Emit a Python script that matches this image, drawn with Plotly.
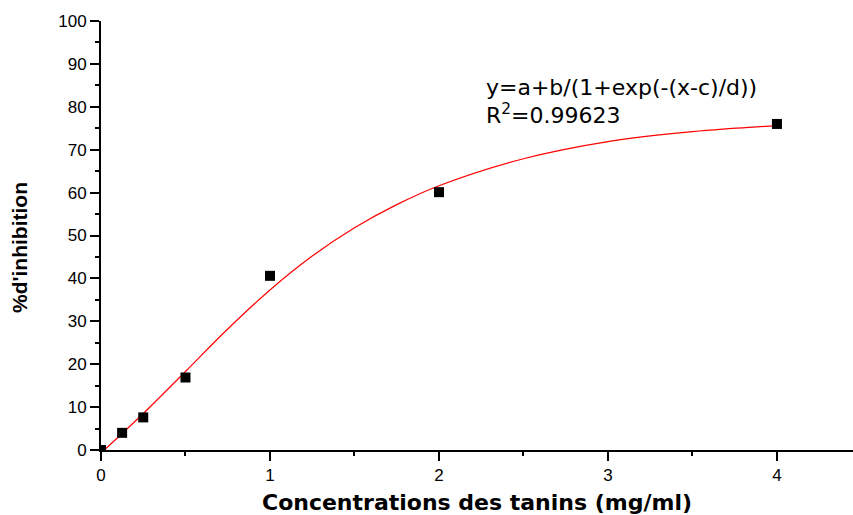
import plotly.graph_objects as go

# measured data points
conc = [0, 0.125, 0.25, 0.5, 1, 2, 4]
inhib = [0, 4.0, 7.6, 16.9, 40.6, 60.1, 76.0]

# fitted sigmoid curve
fit_x = [0.02, 0.25, 0.5, 0.75, 1.0, 1.25, 1.5, 1.75, 2.0, 2.5, 3.0, 3.5, 4.0]
fit_y = [0, 8.5, 18.3, 28.2, 37.3, 45.2, 51.8, 57.2, 61.6, 67.9, 71.9, 74.2, 75.6]

x_ticks = [0, 1, 2, 3, 4]
y_ticks = [0, 10, 20, 30, 40, 50, 60, 70, 80, 90, 100]

FONT = "Liberation Sans, Arial, sans-serif"
WIDE = "DejaVu Sans, Liberation Sans, sans-serif"

fig = go.Figure()
fig.add_trace(go.Scatter(x=fit_x, y=fit_y, mode="lines",
                         line=dict(color="#ff0000", width=1.2, shape="spline"),
                         showlegend=False, hoverinfo="skip"))
fig.add_trace(go.Scatter(x=conc, y=inhib, mode="markers",
                         marker=dict(symbol="square", size=10, color="black"),
                         showlegend=False))

fig.update_layout(
    width=853, height=515,
    margin=dict(l=101, r=0, t=21, b=65),
    paper_bgcolor="white", plot_bgcolor="white",
    font=dict(family=FONT, size=17, color="black"),
    xaxis=dict(range=[0, 4.45], tickvals=x_ticks, showgrid=False, zeroline=False,
               automargin=False,
               showline=True, linecolor="black", linewidth=2,
               ticks="outside", ticklen=9, tickwidth=2, tickcolor="black",
               minor=dict(ticks="outside", ticklen=4, tickwidth=2, dtick=0.5, tickcolor="black"),
               tickfont=dict(size=17),
               title=dict(text="<b>Concentrations des tanins (mg/ml)</b>",
                          font=dict(size=22, family=WIDE), standoff=15)),
    yaxis=dict(range=[0, 100], tickvals=y_ticks, showgrid=False, zeroline=False,
               automargin=False,
               showline=True, linecolor="black", linewidth=2,
               ticks="outside", ticklen=9, tickwidth=2, tickcolor="black",
               minor=dict(ticks="outside", ticklen=4, tickwidth=2, dtick=5, tickcolor="black"),
               tickfont=dict(size=17)),
)

# y-axis title placed as a rotated annotation (sits slightly below the plot centre)
fig.add_annotation(x=-0.1077, y=0.4709, xref="paper", yref="paper",
                   xanchor="center", yanchor="middle", textangle=-90,
                   text="<b>%d'inhibition</b>", showarrow=False,
                   font=dict(size=21, family=FONT))

fig.add_annotation(x=2.266, y=84.4, xref="x", yref="y", xanchor="left", yanchor="middle",
                   text="y=a+b/(1+exp(-(x-c)/d))", showarrow=False,
                   font=dict(size=22, family=WIDE))
fig.add_annotation(x=2.266, y=78.4, xref="x", yref="y", xanchor="left", yanchor="middle",
                   text="R<sup>2</sup>=0.99623", showarrow=False,
                   font=dict(size=22, family=WIDE))

fig.write_html("out.html", config={"displayModeBar": False},
               post_script="document.body.style.margin='0';document.body.style.overflow='hidden';")
